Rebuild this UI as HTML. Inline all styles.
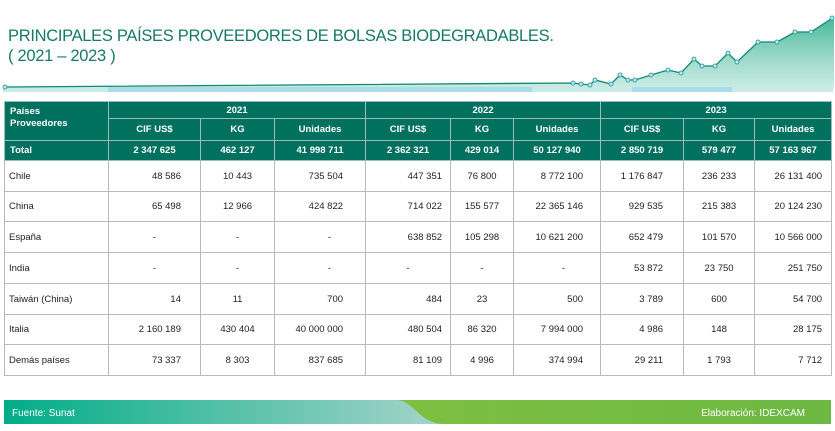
<!DOCTYPE html>
<html><head><meta charset="utf-8"><style>
body{margin:0;width:835px;height:431px;background:#fff;position:relative;overflow:hidden;font-family:"Liberation Sans",sans-serif;}
.title{position:absolute;left:8px;top:26px;color:#167a68;font-size:16.5px;line-height:20px;letter-spacing:-0.3px;}
table{position:absolute;left:4px;top:101px;border-collapse:collapse;table-layout:fixed;width:827px;font-size:9.5px;}
td{border:1px solid #b9b9b9;padding:0;white-space:nowrap;}
.h td{background:#00705f;color:#fff;font-weight:bold;text-align:center;border-color:#9fbdb6;}
.h td.l{text-align:left;padding-left:5px;}
.d td{color:#222;text-align:right;}
.d td.l{text-align:left;padding-left:4px;}
.c{text-align:center!important;}
.foot{position:absolute;left:4px;top:400px;width:827px;height:24px;}
</style></head><body>
<svg style="position:absolute;left:0;top:0" width="835" height="95">
<defs><linearGradient id="g" x1="0" y1="0" x2="0" y2="1"><stop offset="0" stop-color="#2fae8c" stop-opacity="0.9"/><stop offset="1" stop-color="#8fd6c4" stop-opacity="0.5"/></linearGradient></defs>
<rect x="3" y="87" width="830" height="5" fill="#c8ebe6"/>
<rect x="108" y="87" width="424" height="5" fill="#a9dce8"/>
<rect x="632" y="87" width="100" height="5" fill="#a9dce8"/>
<polygon fill="url(#g)" points="5,87 573,83 581,84 590,85 595,80 611,84 620,75 628,80 635,80 651,75 668,70 681,73 694,59 702,66 715,66 728,53 737,62 758,42 777,42 795,32 811,32 834,17 834,87"/>
<polyline fill="none" stroke="#0f8a70" stroke-width="1.3" points="5,87 573,83 581,84 590,85 595,80 611,84 620,75 628,80 635,80 651,75 668,70 681,73 694,59 702,66 715,66 728,53 737,62 758,42 777,42 795,32 811,32 834,17"/>
<g fill="#bfe8f2" stroke="#1f8fa0" stroke-width="0.8">
<circle cx="5" cy="87" r="2"/><circle cx="573" cy="83" r="2"/><circle cx="581" cy="84" r="2"/><circle cx="590" cy="85" r="2"/><circle cx="595" cy="80" r="2"/><circle cx="611" cy="84" r="2"/><circle cx="620" cy="75" r="2"/><circle cx="628" cy="80" r="2"/><circle cx="635" cy="80" r="2"/><circle cx="651" cy="75" r="2"/><circle cx="668" cy="70" r="2"/><circle cx="681" cy="73" r="2"/><circle cx="694" cy="59" r="2"/><circle cx="702" cy="66" r="2"/><circle cx="715" cy="66" r="2"/><circle cx="728" cy="53" r="2"/><circle cx="737" cy="62" r="2"/><circle cx="758" cy="42" r="2"/><circle cx="777" cy="42" r="2"/><circle cx="795" cy="32" r="2"/><circle cx="811" cy="32" r="2"/><circle cx="832" cy="18" r="2"/>
</g></svg>
<div class="title">PRINCIPALES PAÍSES PROVEEDORES DE BOLSAS BIODEGRADABLES.<br>( 2021 – 2023 )</div>
<table>
<colgroup><col style="width:104px"><col style="width:92px"><col style="width:74px"><col style="width:91px"><col style="width:85px"><col style="width:63px"><col style="width:87px"><col style="width:83px"><col style="width:71px"><col style="width:77px"></colgroup>
<tr class="h" style="height:17px"><td class="l" rowspan="2" style="vertical-align:top;padding-top:4px;line-height:12px">Países<br>Proveedores</td><td colspan="3">2021</td><td colspan="3">2022</td><td colspan="3">2023</td></tr>
<tr class="h" style="height:22px"><td>CIF US$</td><td>KG</td><td>Unidades</td><td>CIF US$</td><td>KG</td><td>Unidades</td><td>CIF US$</td><td>KG</td><td>Unidades</td></tr>
<tr class="h" style="height:20px"><td class="l">Total</td><td>2 347 625</td><td>462 127</td><td>41 998 711</td><td>2 362 321</td><td>429 014</td><td>50 127 940</td><td>2 850 719</td><td>579 477</td><td>57 163 967</td></tr>
<tr class="d" style="height:31px"><td class="l">Chile</td><td style="padding-right:19px">48 586</td><td class="c">10 443</td><td style="padding-right:22px">735 504</td><td style="padding-right:8px">447 351</td><td class="c">76 800</td><td style="padding-right:17px">8 772 100</td><td style="padding-right:20px">1 176 847</td><td class="c">236 233</td><td style="padding-right:9px">26 131 400</td></tr>
<tr class="d" style="height:30px"><td class="l">China</td><td style="padding-right:19px">65 498</td><td class="c">12 966</td><td style="padding-right:22px">424 822</td><td style="padding-right:8px">714 022</td><td class="c">155 577</td><td style="padding-right:17px">22 365 146</td><td style="padding-right:20px">929 535</td><td class="c">215 383</td><td style="padding-right:9px">20 124 230</td></tr>
<tr class="d" style="height:31px"><td class="l">España</td><td class="c">-</td><td class="c">-</td><td style="padding-right:34px">-</td><td style="padding-right:8px">638 852</td><td class="c">105 298</td><td style="padding-right:17px">10 621 200</td><td style="padding-right:20px">652 479</td><td class="c">101 570</td><td style="padding-right:9px">10 566 000</td></tr>
<tr class="d" style="height:31px"><td class="l">India</td><td class="c">-</td><td class="c">-</td><td style="padding-right:34px">-</td><td class="c">-</td><td class="c">-</td><td style="padding-right:35px">-</td><td style="padding-right:20px">53 872</td><td class="c">23 750</td><td style="padding-right:9px">251 750</td></tr>
<tr class="d" style="height:31px"><td class="l">Taiwán (China)</td><td style="padding-right:19px">14</td><td class="c">11</td><td style="padding-right:22px">700</td><td style="padding-right:8px">484</td><td class="c">23</td><td style="padding-right:17px">500</td><td style="padding-right:20px">3 789</td><td class="c">600</td><td style="padding-right:9px">54 700</td></tr>
<tr class="d" style="height:30px"><td class="l">Italia</td><td style="padding-right:19px">2 160 189</td><td class="c">430 404</td><td style="padding-right:22px">40 000 000</td><td style="padding-right:8px">480 504</td><td class="c">86 320</td><td style="padding-right:17px">7 994 000</td><td style="padding-right:20px">4 986</td><td class="c">148</td><td style="padding-right:9px">28 175</td></tr>
<tr class="d" style="height:31px"><td class="l">Demás países</td><td style="padding-right:19px">73 337</td><td class="c">8 303</td><td style="padding-right:22px">837 685</td><td style="padding-right:8px">81 109</td><td class="c">4 996</td><td style="padding-right:17px">374 994</td><td style="padding-right:20px">29 211</td><td class="c">1 793</td><td style="padding-right:9px">7 712</td></tr>
</table>
<svg class="foot" width="827" height="24">
<defs>
<linearGradient id="f1" x1="0" x2="1"><stop offset="0" stop-color="#00ad88"/><stop offset="0.55" stop-color="#5cc2aa"/><stop offset="1" stop-color="#a6d4cc"/></linearGradient>
<linearGradient id="f2" x1="0" x2="1"><stop offset="0" stop-color="#8dc63f"/><stop offset="1" stop-color="#6cb843"/></linearGradient>
</defs>
<rect width="827" height="24" fill="url(#f2)"/>
<path d="M0,0 H392 C410,0 415,24 440,24 H0 Z" fill="url(#f1)"/>
<text x="8" y="16" fill="#fff" font-size="10" font-family="Liberation Sans, sans-serif">Fuente: Sunat</text>
<text x="801" y="16" fill="#fff" font-size="10" text-anchor="end" font-family="Liberation Sans, sans-serif">Elaboración:  IDEXCAM</text>
</svg>
</body></html>
